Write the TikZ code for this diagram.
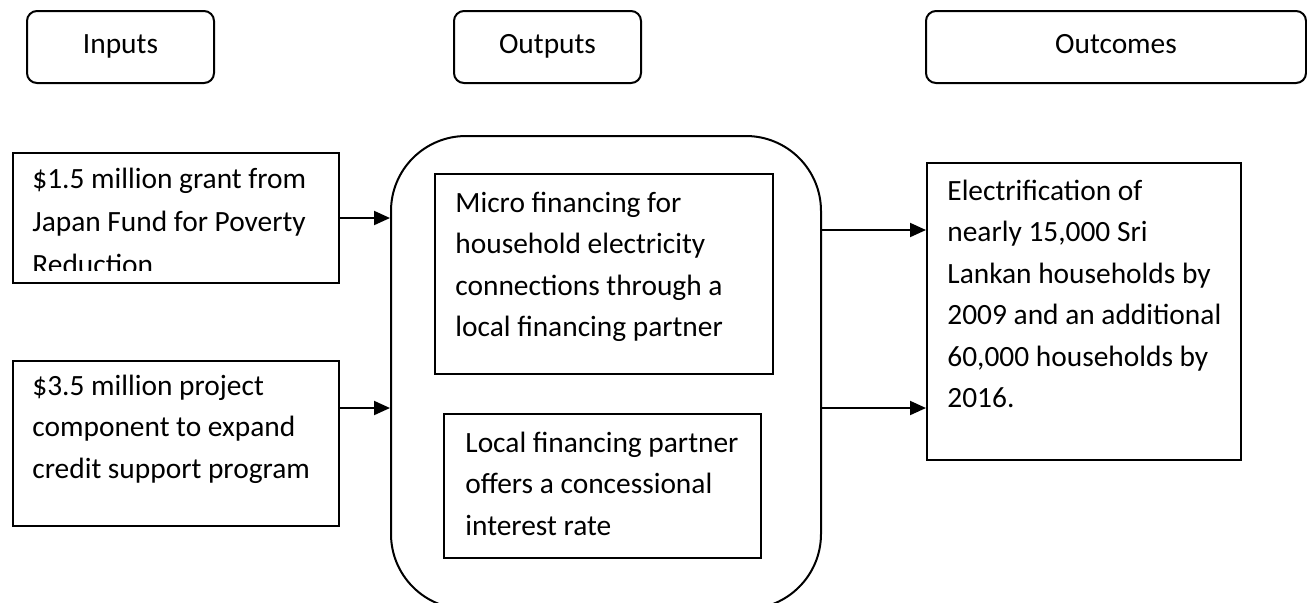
\documentclass[tikz,border=0pt]{standalone}
\usepackage{fontspec}
\setmainfont{Carlito}
\usetikzlibrary{arrows.meta}
\begin{document}
\begin{tikzpicture}[x=0.5pt,y=-0.5pt,
  every node/.style={font=\fontsize{14.7pt}{20.75pt}\selectfont},
  frame/.style={draw, line width=1pt, rectangle, inner sep=0pt, anchor=north west},
  head/.style={draw, line width=1pt, rounded corners=5pt, inner sep=0pt,
               text height=9pt, text depth=2.5pt, minimum height=36pt},
  % multi-line texts are placed by the baseline of their last line
  body/.style={anchor=base west, align=left, inner sep=0pt},
  arr/.style={line width=1pt, -{Triangle[length=8pt,width=7pt]}}]
\useasboundingbox (0,0) rectangle (1307,602);

% column headings
\node[head, minimum width=93.5pt] (hIn)  at (120.5,47) {Inputs};
\node[head, minimum width=93.5pt] (hOut) at (547.5,47) {Outputs};
\node[head, minimum width=190pt]  (hRes) at (1116,47)  {Outcomes};

% input boxes
\node[frame, minimum width=163pt, minimum height=65pt]   (in1) at (12,152) {};
\node[frame, minimum width=163pt, minimum height=82.5pt] (in2) at (12,360) {};
\begin{scope}
  % the last line of this text runs past the text area and is cut
  \clip (12,152) rectangle (338,270);
  \node[body, font=\fontsize{14.7pt}{21.5pt}\selectfont] (t1) at (32,274)
    {\$1.5 million grant from\\Japan Fund for Poverty\\Reduction};
\end{scope}
\node[body] (t2) at (32,478) {\$3.5 million project\\component to expand\\credit support program};

% output container and its two boxes
\node[frame, rounded corners=37.5pt, minimum width=215pt, minimum height=236.5pt] (mid) at (390,135) {};
\node[frame, minimum width=169pt, minimum height=100pt] (o1) at (434,173) {};
\node[frame, minimum width=158.5pt, minimum height=72pt] (o2) at (443,413) {};
\node[body] (t3) at (455,336.5) {Micro financing for\\household electricity\\connections through a\\local financing partner};
\node[body] (t4) at (465,535) {Local financing partner\\offers a concessional\\interest rate};

% outcome box
\node[frame, minimum width=157pt, minimum height=148.5pt] (res) at (926,162) {};
\node[body] (t5) at (947,407.5) {Electrification of\\nearly 15,000 Sri\\Lankan households by\\2009 and an additional\\60,000 households by\\2016.};

% connector levels
\coordinate (lvlA) at (0,230);
\coordinate (lvlB) at (0,408);

% connectors
\draw[arr] (in1.east) -- (mid.west |- in1.east);
\draw[arr] (in2.east |- lvlB) -- (mid.west |- lvlB);
\draw[arr] (mid.east |- lvlA) -- (res.west |- lvlA);
\draw[arr] (mid.east |- lvlB) -- (res.west |- lvlB);
\end{tikzpicture}
\end{document}
